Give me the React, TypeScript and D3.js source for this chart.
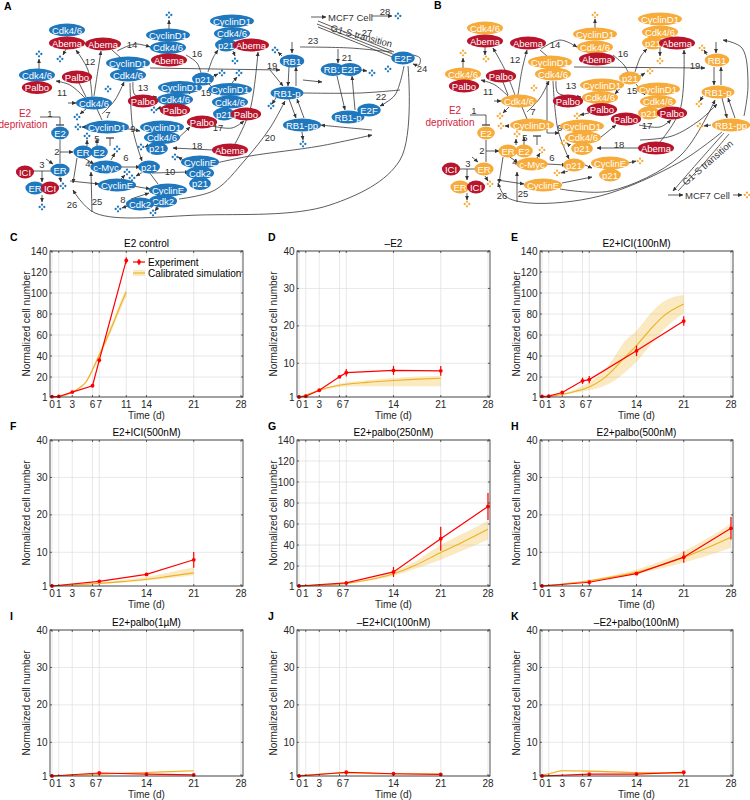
import React, { useEffect, useRef } from "react";
import * as d3 from "d3";

// ---------- chart data (panels C-K) ----------
const panelLetters = ["C", "D", "E", "F", "G", "H", "I", "J", "K"];
const panelTitles = [
  "E2 control", "\u2013E2", "E2+ICI(100nM)",
  "E2+ICI(500nM)", "E2+palbo(250nM)", "E2+palbo(500nM)",
  "E2+palbo(1\u00b5M)", "\u2013E2+ICI(100nM)", "\u2013E2+palbo(100nM)",
];
const yMaxes = [140, 40, 140, 40, 140, 40, 40, 40, 40];
const xTicksC = [0, 1, 3, 6, 7, 11, 14, 21, 28];
const xTicks = [0, 1, 3, 6, 7, 14, 21, 28];
const yTicks140 = [1, 20, 40, 60, 80, 100, 120, 140];
const yTicks40 = [1, 10, 20, 30, 40];

const cExpT = [0, 1, 3, 6, 7, 11];
const cExpY = [1.3, 1.5, 5.7, 11.7, 36, 131];
const cExpErr = [0.3, 0.3, 0.6, 1, 2, 3];
const cSimT = [0, 1, 2, 3, 4, 5, 6, 7, 8, 9, 10, 11];
const cSimY = [1, 1.4, 2.9, 5.6, 9.5, 15, 27, 41, 55, 70, 86, 101];
const cSimLo = [1, 1.3, 2.7, 5.2, 8.8, 13.8, 25, 38.5, 52, 66.5, 82, 97];
const cSimHi = [1, 1.5, 3.1, 6.0, 10.2, 16.2, 29, 43.5, 58, 73.5, 90, 105];

const dExpT = [0, 1, 3, 6, 7, 14, 21];
const dExpY = [1.0, 1.2, 2.8, 6.4, 7.5, 8.1, 8.0];
const dExpErr = [0.1, 0.1, 0.2, 0.3, 1.0, 1.2, 1.3];
const dSimT = [0, 1, 3, 5, 7, 10, 14, 17, 21];
const dSimY = [1, 1.5, 2.8, 3.8, 4.4, 4.9, 5.4, 5.7, 6.0];
const dSimLo = [1, 1.4, 2.6, 3.4, 3.8, 3.9, 3.9, 3.9, 3.9];
const dSimHi = [1, 1.6, 3.0, 4.1, 4.9, 5.5, 6.1, 6.4, 6.7];

const eExpT = [0, 1, 3, 6, 7, 14, 21];
const eExpY = [1.5, 1.8, 5.3, 16.4, 17.6, 45, 73.3];
const eExpErr = [0.5, 0.5, 1, 3, 3.5, 5, 4.5];
const eSimT = [0, 1, 3, 5, 7, 9, 11, 12, 14, 16, 18, 21];
const eSimY = [1, 1.5, 3.5, 6.5, 10.6, 18, 30, 37, 50, 65, 78, 89.5];
const eSimLo = [1, 1.4, 3.0, 5.2, 7.5, 11, 18, 23, 34.5, 50, 65, 81];
const eSimHi = [1, 1.6, 4.0, 8.5, 15, 25, 42, 52, 64, 80, 92, 98];

const fExpT = [0, 7, 14, 21];
const fExpY = [1.0, 2.25, 4.1, 8.0];
const fExpErr = [0.1, 0.3, 0.4, 2.1];
const fSimT = [0, 3, 7, 10, 14, 17, 21];
const fSimY = [1, 1.3, 1.7, 2.1, 2.8, 3.5, 4.5];
const fSimLo = [1, 1.25, 1.6, 1.9, 2.5, 3.0, 3.9];
const fSimHi = [1, 1.4, 1.9, 2.5, 3.5, 4.5, 6.0];

const gExpT = [0, 7, 14, 21, 28];
const gExpY = [1, 3.9, 14.4, 46, 76.7];
const gExpErr = [0.2, 0.6, 4.8, 11.5, 12.8];
const gSimT = [0, 3, 7, 10, 14, 17, 21, 24, 28];
const gSimY = [1, 1.8, 3.5, 6.5, 12.7, 20, 33, 42, 55];
const gSimLo = [1, 1.7, 3.2, 5.8, 10.8, 17, 26, 34, 45];
const gSimHi = [1, 1.9, 3.8, 7.2, 14.8, 23.5, 40, 50, 63];

const hExpT = [0, 7, 14, 21, 28];
const hExpY = [1, 2.0, 4.3, 8.7, 16.4];
const hExpErr = [0.1, 0.2, 0.3, 1.5, 3.0];
const hSimT = [0, 3, 7, 10, 14, 17, 21, 24, 28];
const hSimY = [1, 1.5, 2.4, 3.3, 4.7, 6.2, 8.6, 10.8, 14];
const hSimLo = [1, 1.45, 2.2, 3.0, 4.2, 5.4, 7.3, 8.8, 11.2];
const hSimHi = [1, 1.6, 2.6, 3.7, 5.4, 7.2, 10.3, 13.2, 17.6];

const iExpT = [0, 7, 14, 21];
const iExpY = [1.0, 1.8, 1.5, 1.3];
const iExpErr = [0.05, 0.15, 0.1, 0.1];
const iSimT = [0, 7, 14, 21];
const iSimY = [1, 1.5, 1.95, 2.4];
const iSimLo = [1, 1.45, 1.85, 2.25];
const iSimHi = [1, 1.55, 2.05, 2.55];

const jExpT = [0, 7, 14, 21];
const jExpY = [1.0, 2.0, 1.6, 1.4];
const jExpErr = [0.05, 0.2, 0.1, 0.1];
const jSimT = [0, 7, 14, 21];
const jSimY = [1.1, 1.8, 1.6, 1.6];
const jSimLo = [1, 1.6, 1.4, 1.4];
const jSimHi = [1.2, 2.0, 1.8, 1.8];

const kExpT = [0, 7, 14, 21];
const kExpY = [1.0, 1.5, 1.5, 2.0];
const kExpErr = [0.05, 0.1, 0.1, 0.15];
const kSimT = [0, 1, 3, 7, 14, 21];
const kSimY = [1.3, 1.6, 2.4, 2.3, 1.9, 1.7];
const kSimLo = [1.2, 1.5, 2.2, 2.1, 1.7, 1.5];
const kSimHi = [1.4, 1.7, 2.6, 2.5, 2.1, 1.9];

// ---------- network diagrams (A: blue, B: orange) ----------
// [label, x, y, isDrug]
const netANodes = [
  ["Cdk4/6", 67, 30, 0], ["Abema", 67, 43, 1],
  ["Abema", 103, 44, 1],
  ["CyclinD1", 168, 35, 0], ["Cdk4/6", 168, 47.5, 0], ["Abema", 169, 60, 1],
  ["CyclinD1", 232, 21, 0], ["Cdk4/6", 232, 33.5, 0], ["p21", 226, 45, 0], ["Abema", 251, 45, 1],
  ["CyclinD1", 128, 63, 0], ["Cdk4/6", 128, 75, 0],
  ["Cdk4/6", 37, 75, 0], ["Palbo", 37, 87.5, 1],
  ["Palbo", 77, 77, 1],
  ["Cdk4/6", 94, 103, 0],
  ["E2", 60, 133, 0],
  ["CyclinD1", 107, 127, 0],
  ["ER", 83, 152, 0], ["E2", 99, 152, 0],
  ["ER", 60, 170, 0], ["ICI", 25, 172, 1], ["ER", 35, 188, 0], ["ICI", 50, 188, 1],
  ["c-Myc", 106, 167, 0],
  ["p21", 149, 167, 0],
  ["CyclinE", 117, 185, 0],
  ["CyclinE", 168, 190, 0], ["Cdk2", 163, 201, 0],
  ["Cdk2", 140, 204, 0],
  ["CyclinE", 200, 162, 0], ["Cdk2", 200, 173, 0], ["p21", 200, 183.5, 0],
  ["CyclinD1", 162, 127, 0], ["Cdk4/6", 162, 137.5, 0], ["p21", 157, 148.5, 0],
  ["Abema", 230, 150, 1],
  ["Palbo", 202, 122, 1],
  ["p21", 203, 79, 0],
  ["CyclinD1", 180, 87.5, 0], ["Cdk4/6", 175, 99.5, 0], ["Palbo", 175, 110, 1], ["Palbo", 143, 101, 1],
  ["CyclinD1", 230, 89.5, 0], ["Cdk4/6", 230, 102, 0], ["p21", 224, 114, 0], ["Palbo", 246, 114, 1],
  ["RB1", 292, 61, 0],
  ["RB1", 333, 69.5, 0], ["E2F", 350, 69.5, 0],
  ["RB1-p", 287, 93, 0],
  ["RB1-pp", 302, 125, 0],
  ["RB1-p", 348, 117, 0], ["E2F", 369, 110, 0],
  ["E2F", 403, 58, 0],
];
// [head(0 none, 1 arrow, 2 bar), x1, y1, x2, y2, ...]
const netAEdges = [
  [1, 117, 51, 135, 44, 150, 47], [0, 121, 58, 112, 50],
  [0, 186, 55, 197, 63, 201, 73], [1, 208, 72, 213, 58, 218, 50],
  [1, 94, 96, 98, 70, 101, 51], [1, 92, 97, 88, 70, 76, 50],
  [1, 66, 49, 63, 55], [1, 39, 69, 39, 59],
  [1, 87, 100, 70, 85, 56, 81], [0, 79, 83, 86, 97],
  [1, 68, 103, 76, 103], [1, 86, 109, 80, 114],
  [0, 97, 109, 102, 120], [1, 102, 114, 115, 100, 124, 82],
  [1, 86, 127, 82, 127],
  [0, 40, 117, 60, 117], [2, 60, 117, 60, 125],
  [0, 60, 140, 60, 152], [1, 60, 152, 73, 152], [0, 60, 163, 60, 152],
  [1, 60, 177, 61, 182],
  [0, 34, 171, 51, 171], [1, 42, 171, 42, 182],
  [1, 42, 195, 42, 202], [1, 46, 159, 53, 164],
  [1, 87, 146, 87, 140], [1, 97, 146, 97, 139], [2, 110, 146, 110, 138],
  [1, 84, 158, 94, 164], [1, 77, 158, 73, 183], [1, 70, 181, 99, 184],
  [1, 121, 167, 140, 167], [1, 111, 160, 115, 153],
  [1, 143, 172, 136, 176], [1, 121, 179, 125, 175],
  [1, 133, 186, 150, 189], [1, 152, 173, 189, 172], [0, 149, 172, 158, 184],
  [1, 131, 199, 149, 193], [1, 131, 205, 122, 208], [1, 158, 207, 155, 211],
  [1, 183, 160, 178, 157],
  [1, 179, 199, 215, 190, 245, 160, 270, 128, 285, 101],
  [1, 216, 163, 250, 156, 320, 146, 372, 135],
  [1, 130, 83, 133, 130, 142, 161],
  [1, 133, 82, 135, 95, 157, 97],
  [1, 197, 84, 189, 94], [1, 209, 84, 219, 95],
  [1, 212, 77, 218, 74], [1, 232, 83, 237, 77], [1, 233, 51, 235, 56], [1, 169, 29, 169, 20],
  [1, 160, 108, 157, 109],
  [1, 212, 126, 232, 128, 244, 121],
  [1, 174, 142, 190, 127], [1, 147, 146, 145, 147],
  [1, 123, 128, 140, 131],
  [1, 213, 150, 173, 148],
  [1, 235, 144, 250, 110, 258, 52],
  [1, 150, 68, 280, 70], [1, 270, 70, 283, 86],
  [1, 282, 56, 278, 52], [1, 292, 42, 292, 53],
  [1, 289, 67, 288, 86], [1, 296, 86, 296, 67],
  [1, 289, 99, 296, 118], [1, 304, 118, 297, 99],
  [1, 276, 98, 272, 104], [1, 302, 132, 303, 140],
  [1, 303, 80, 322, 82],
  [0, 392, 52, 350, 48, 300, 47],
  [1, 338, 49, 338, 63],
  [1, 337, 76, 345, 110], [1, 355, 110, 352, 76],
  [1, 361, 70, 367, 71],
  [0, 303, 93, 360, 93, 400, 90],
  [1, 404, 66, 395, 95, 380, 106],
  [1, 372, 130, 330, 126, 321, 125],
  [0, 394, 52, 318, 21], [0, 395, 55, 317, 24], [0, 395, 58, 318, 27],
  [1, 311, 17, 326, 17], [1, 372, 16, 392, 16],
  [1, 413, 55, 420, 58, 419, 65, 413, 64],
  [1, 408, 66, 400, 160, 330, 205, 200, 215, 95, 213, 73, 190],
  [1, 92, 212, 91, 172],
];
const netADots = [
  [60, 59], [169, 15], [235, 61], [108, 89], [39, 54], [77, 117], [78, 127], [87, 136],
  [42, 207], [63, 186], [117, 149], [132, 178], [127, 172], [153, 213], [118, 209],
  [175, 157], [141, 147], [222, 73], [154, 110], [239, 73], [275, 50], [372, 73],
  [271, 106], [303, 144], [388, 69], [398, 16],
];
const netANums = [
  ["14", 132, 44], ["16", 197, 53], ["12", 90, 61], ["11", 62, 92], ["13", 143, 87],
  ["15", 206, 92], ["7", 108, 114], ["1", 50, 113], ["9", 133, 128], ["17", 218, 127],
  ["18", 197, 145], ["5", 97, 138], ["2", 57, 151], ["4", 88, 163.5], ["6", 126, 157],
  ["3", 42, 164], ["10", 170, 171], ["8", 123, 199], ["26", 72, 204], ["25", 97, 201],
  ["20", 270, 137], ["19", 272, 65], ["23", 313, 40], ["21", 347, 57], ["27", 367, 32],
  ["28", 385, 11], ["24", 422, 68], ["22", 381, 96],
];

const netBNodes = [
  ["Cdk4/6", 485, 28, 0], ["Abema", 485, 41, 1],
  ["Abema", 528, 43, 1],
  ["CyclinD1", 595, 34, 0], ["Cdk4/6", 595, 47, 0], ["Abema", 597, 59, 1],
  ["CyclinD1", 660, 19, 0], ["Cdk4/6", 660, 32, 0], ["p21", 653, 43, 0], ["Abema", 677, 43, 1],
  ["CyclinD1", 550, 62, 0], ["Cdk4/6", 553, 74, 0],
  ["Cdk4/6", 463, 74, 0], ["Palbo", 464, 86, 1],
  ["Palbo", 501, 76, 1],
  ["Cdk4/6", 519, 101, 0],
  ["E2", 486, 133, 0],
  ["CyclinD1", 532, 125, 0],
  ["ER", 508, 151, 0], ["E2", 524, 151, 0],
  ["ER", 484, 169, 0], ["ICI", 451, 169, 1], ["ER", 460, 187, 0], ["ICI", 476, 187, 1],
  ["c-Myc", 532, 164, 0],
  ["p21", 574, 165, 0],
  ["CyclinE", 543, 185, 0],
  ["CyclinE", 610, 163, 0], ["p21", 610, 175, 0],
  ["CyclinD1", 582, 126, 0], ["Cdk4/6", 583, 137.5, 0], ["p21", 582, 148.5, 0],
  ["Abema", 656, 148, 1],
  ["Palbo", 626, 119, 1],
  ["p21", 630, 78, 0],
  ["CyclinD1", 602, 85, 0], ["Cdk4/6", 600, 97.5, 0], ["Palbo", 568, 101, 1], ["Palbo", 602, 109.5, 1],
  ["CyclinD1", 658, 89, 0], ["Cdk4/6", 658, 101.5, 0], ["p21", 649, 113, 0], ["Palbo", 672, 113, 1],
  ["RB1", 717, 60, 0],
  ["RB1-p", 718, 92, 0],
  ["RB1-pp", 731, 125, 0],
];
const netBEdges = [
  [1, 541, 49, 560, 40, 577, 47], [0, 548, 57, 540, 50],
  [0, 613, 55, 624, 65, 628, 72], [1, 635, 72, 641, 56, 647, 49],
  [1, 518, 95, 522, 70, 527, 50], [1, 515, 95, 505, 70, 493, 48],
  [1, 485, 47, 485, 55], [1, 463, 68, 463, 58],
  [1, 510, 98, 495, 85, 481, 80], [0, 503, 82, 508, 95],
  [1, 494, 101, 501, 101], [1, 509, 107, 503, 113],
  [0, 522, 107, 527, 119], [1, 527, 112, 540, 98, 549, 81],
  [1, 509, 126, 505, 126],
  [0, 470, 115, 486, 115], [2, 486, 115, 486, 125],
  [0, 486, 140, 486, 151], [1, 486, 151, 499, 151], [0, 486, 162, 486, 151],
  [1, 485, 176, 488, 181],
  [0, 459, 169, 476, 169], [1, 467, 169, 467, 180],
  [1, 467, 193, 467, 200], [1, 472, 157, 478, 162],
  [1, 516, 145, 516, 139], [1, 524, 145, 524, 137], [2, 537, 145, 537, 136],
  [1, 510, 157, 518, 163], [1, 503, 157, 499, 183], [1, 497, 180, 524, 184],
  [1, 547, 164, 566, 165], [1, 537, 158, 540, 153],
  [1, 585, 165, 592, 168], [1, 562, 183, 592, 177],
  [1, 628, 163, 636, 161], [1, 568, 171, 561, 173],
  [1, 560, 189, 610, 191, 680, 156, 715, 100],
  [1, 640, 140, 672, 136, 700, 120, 717, 104],
  [1, 553, 81, 558, 130, 569, 159],
  [1, 556, 81, 558, 93, 581, 97],
  [1, 624, 84, 615, 94], [1, 636, 84, 645, 95],
  [1, 639, 77, 645, 73], [1, 660, 39, 660, 56], [1, 595, 28, 595, 19],
  [1, 589, 113, 580, 115],
  [1, 639, 125, 660, 127, 671, 120],
  [1, 596, 141, 616, 125], [1, 570, 146, 567, 143],
  [0, 547, 81, 547, 133], [1, 547, 133, 559, 133],
  [1, 640, 148, 597, 148],
  [1, 660, 142, 680, 110, 684, 50],
  [1, 574, 67, 705, 68],
  [1, 707, 55, 704, 50], [1, 716, 42, 716, 53],
  [1, 714, 67, 714, 85], [1, 721, 85, 721, 67],
  [1, 722, 98, 727, 118], [1, 735, 118, 728, 98],
  [1, 703, 96, 700, 101], [1, 711, 125, 704, 126],
  [1, 744, 116, 748, 85, 742, 48, 723, 40],
  [1, 724, 133, 700, 160, 673, 191], [0, 729, 134, 705, 162, 678, 191],
  [1, 668, 195, 683, 195], [1, 733, 195, 742, 195],
  [1, 722, 132, 680, 162, 600, 196, 530, 203, 505, 196, 498, 183],
  [1, 517, 202, 517, 172],
];
const netBDots = [
  [486, 59], [595, 15], [660, 61], [534, 88], [463, 53], [500, 116], [501, 126], [517, 134],
  [467, 204], [490, 184], [542, 150], [557, 173], [640, 161], [564, 143], [650, 71],
  [577, 116], [702, 48], [699, 104], [700, 126], [747, 195],
];
const netBNums = [
  ["14", 555, 44], ["16", 623, 53], ["12", 515, 59], ["11", 488, 91], ["13", 571, 85],
  ["15", 632, 90], ["7", 533, 111], ["1", 474, 110], ["9", 560, 127], ["17", 647, 125],
  ["18", 619, 144], ["5", 525, 137], ["2", 482, 150], ["3", 468, 163], ["4", 515, 161],
  ["6", 552, 157], ["19", 695, 65], ["26", 502, 195], ["25", 523, 193],
];

const FONT = "'Liberation Sans', Arial, Helvetica, sans-serif";
const RED = "#ff0000";
const SIM = "#edb120";
const BLUE = "#1f77be";
const ORANGE = "#f7ab3a";
const DRUG = "#b8142c";
const AXIS = "#262626";

const makeSeries = (t, y) => t.map((v, i) => [v, y[i]]);

const App = () => {
  const ref = useRef(null);

  useEffect(() => {
    const svg = d3.select(ref.current);
    svg.selectAll("*").remove();

    const defs = svg.append("defs");
    defs.append("marker").attr("id", "arr").attr("viewBox", "0 0 6 6")
      .attr("refX", 5.5).attr("refY", 3).attr("markerWidth", 4.5).attr("markerHeight", 4.5)
      .attr("markerUnits", "userSpaceOnUse").attr("orient", "auto")
      .append("path").attr("d", "M0,0.4 L6,3 L0,5.6 Z").attr("fill", "#333");
    defs.append("marker").attr("id", "bar").attr("viewBox", "0 0 2 8")
      .attr("refX", 1).attr("refY", 4).attr("markerWidth", 2).attr("markerHeight", 8)
      .attr("markerUnits", "userSpaceOnUse").attr("orient", "auto")
      .append("path").attr("d", "M1,0 V8").attr("stroke", "#333").attr("stroke-width", 1.2);

    // ---- networks ----
    const ctx = document.createElement("canvas").getContext("2d");
    const measure = (s) => {
      if (!ctx) return s.length * 5.2;
      ctx.font = `9.5px ${FONT}`;
      return ctx.measureText(s).width;
    };
    const edgeLine = d3.line().curve(d3.curveCatmullRom.alpha(0.5));

    const drawNet = (nodes, edges, dots, nums, base) => {
      const g = svg.append("g");
      edges.forEach((e) => {
        const [h, ...c] = e;
        const pts = [];
        for (let i = 0; i < c.length; i += 2) pts.push([c[i], c[i + 1]]);
        g.append("path").attr("d", edgeLine(pts)).attr("fill", "none")
          .attr("stroke", "#333").attr("stroke-width", 0.8)
          .attr("marker-end", h === 1 ? "url(#arr)" : h === 2 ? "url(#bar)" : null);
      });
      dots.forEach(([x, y]) => {
        [[0, -2.3], [-2.3, 0], [2.3, 0], [0, 2.3]].forEach(([dx, dy]) => {
          g.append("circle").attr("cx", x + dx).attr("cy", y + dy).attr("r", 1.15).attr("fill", base);
        });
      });
      nums.forEach(([s, x, y]) => {
        g.append("text").attr("x", x).attr("y", y).attr("text-anchor", "middle")
          .attr("dominant-baseline", "central").attr("font-family", FONT)
          .attr("font-size", 9.5).attr("fill", "#333").text(s);
      });
      nodes.forEach(([s, x, y, drug]) => {
        const rx = measure(s) / 2 + 3;
        g.append("ellipse").attr("cx", x).attr("cy", y).attr("rx", rx).attr("ry", 6.4)
          .attr("fill", drug ? DRUG : base);
        g.append("text").attr("x", x).attr("y", y).attr("text-anchor", "middle")
          .attr("dominant-baseline", "central").attr("font-family", FONT)
          .attr("font-size", 9.5).attr("fill", "#fff").text(s);
      });
      return g;
    };

    const gA = drawNet(netANodes, netAEdges, netADots, netANums, BLUE);
    const gB = drawNet(netBNodes, netBEdges, netBDots, netBNums, ORANGE);

    const txt = (g, s, x, y, opts = {}) =>
      g.append("text").attr("x", x).attr("y", y).attr("font-family", FONT)
        .attr("font-size", opts.size || 9.5).attr("fill", opts.fill || "#333")
        .attr("text-anchor", opts.anchor || "middle")
        .attr("font-weight", opts.bold ? "bold" : null)
        .attr("transform", opts.rot ? `rotate(${opts.rot},${x},${y})` : null)
        .text(s);

    txt(gA, "E2", 25, 117, { fill: "#d0233c", size: 10 });
    txt(gA, "deprivation", 23, 128, { fill: "#d0233c", size: 10 });
    txt(gA, "MCF7 Cell", 328, 20.5, { anchor: "start" });
    txt(gA, "G1-S transition", 330, 31, { anchor: "start", rot: 15 });
    txt(gB, "E2", 455, 114, { fill: "#d0233c", size: 10 });
    txt(gB, "deprivation", 450, 126, { fill: "#d0233c", size: 10 });
    txt(gB, "MCF7 Cell", 685, 198.5, { anchor: "start" });
    txt(gB, "G1-S transition", 686, 186, { anchor: "start", rot: -41 });
    txt(svg, "A", 4, 10, { anchor: "start", bold: true, size: 10.5, fill: "#000" });
    txt(svg, "B", 434, 9, { anchor: "start", bold: true, size: 10.5, fill: "#000" });

    // ---- chart panels ----
    const panels = [
      [cExpT, cExpY, cExpErr, cSimT, cSimY, cSimLo, cSimHi],
      [dExpT, dExpY, dExpErr, dSimT, dSimY, dSimLo, dSimHi],
      [eExpT, eExpY, eExpErr, eSimT, eSimY, eSimLo, eSimHi],
      [fExpT, fExpY, fExpErr, fSimT, fSimY, fSimLo, fSimHi],
      [gExpT, gExpY, gExpErr, gSimT, gSimY, gSimLo, gSimHi],
      [hExpT, hExpY, hExpErr, hSimT, hSimY, hSimLo, hSimHi],
      [iExpT, iExpY, iExpErr, iSimT, iSimY, iSimLo, iSimHi],
      [jExpT, jExpY, jExpErr, jSimT, jSimY, jSimLo, jSimHi],
      [kExpT, kExpY, kExpErr, kSimT, kSimY, kSimLo, kSimHi],
    ];
    const colX = [50, 297, 540];
    const rowY = [251, 440, 630];
    const W = 193;
    const H = 146;

    panels.forEach((p, idx) => {
      const [eT, eY, eErr, sT, sY, sLo, sHi] = p;
      const x0 = colX[idx % 3];
      const y0 = rowY[Math.floor(idx / 3)];
      const yMax = yMaxes[idx];
      const xt = idx === 0 ? xTicksC : xTicks;
      const yt = yMax === 140 ? yTicks140 : yTicks40;
      const x = d3.scaleLinear().domain([-0.3, 28.3]).range([x0, x0 + W]);
      const y = d3.scaleLinear().domain([1, yMax]).range([y0 + H, y0]);
      const g = svg.append("g");

      g.append("rect").attr("x", x0).attr("y", y0).attr("width", W).attr("height", H).attr("fill", "#fff");
      g.selectAll(".gx").data(xt).enter().append("line")
        .attr("x1", (d) => x(d)).attr("x2", (d) => x(d)).attr("y1", y0).attr("y2", y0 + H)
        .attr("stroke", "#dedede").attr("stroke-width", 0.7);
      g.selectAll(".gy").data(yt).enter().append("line")
        .attr("y1", (d) => y(d)).attr("y2", (d) => y(d)).attr("x1", x0).attr("x2", x0 + W)
        .attr("stroke", "#dedede").attr("stroke-width", 0.7);

      const area = d3.area().curve(d3.curveMonotoneX)
        .x((d) => x(d[0])).y0((d) => y(d[1])).y1((d) => y(d[2]));
      g.append("path").attr("d", area(sT.map((t, i) => [t, sLo[i], sHi[i]])))
        .attr("fill", SIM).attr("fill-opacity", 0.28);
      const simLine = d3.line().curve(d3.curveMonotoneX).x((d) => x(d[0])).y((d) => y(d[1]));
      g.append("path").attr("d", simLine(makeSeries(sT, sY)))
        .attr("fill", "none").attr("stroke", SIM).attr("stroke-width", 1.1);

      const expLine = d3.line().x((d) => x(d[0])).y((d) => y(d[1]));
      g.append("path").attr("d", expLine(makeSeries(eT, eY)))
        .attr("fill", "none").attr("stroke", RED).attr("stroke-width", 1.2);
      g.selectAll(".err").data(eT).enter().append("line")
        .attr("x1", (d) => x(d)).attr("x2", (d) => x(d))
        .attr("y1", (d, i) => y(eY[i] - eErr[i])).attr("y2", (d, i) => y(eY[i] + eErr[i]))
        .attr("stroke", RED).attr("stroke-width", 1.2);
      g.selectAll(".pt").data(eT).enter().append("circle")
        .attr("cx", (d) => x(d)).attr("cy", (d, i) => y(eY[i])).attr("r", 1.9).attr("fill", RED);

      g.append("rect").attr("x", x0).attr("y", y0).attr("width", W).attr("height", H)
        .attr("fill", "none").attr("stroke", AXIS).attr("stroke-width", 0.8);
      xt.forEach((d) => {
        g.append("line").attr("x1", x(d)).attr("x2", x(d)).attr("y1", y0 + H).attr("y2", y0 + H - 2)
          .attr("stroke", AXIS).attr("stroke-width", 0.7);
        g.append("line").attr("x1", x(d)).attr("x2", x(d)).attr("y1", y0).attr("y2", y0 + 2)
          .attr("stroke", AXIS).attr("stroke-width", 0.7);
      });
      yt.forEach((d) => {
        g.append("line").attr("x1", x0).attr("x2", x0 + 2).attr("y1", y(d)).attr("y2", y(d))
          .attr("stroke", AXIS).attr("stroke-width", 0.7);
        g.append("line").attr("x1", x0 + W).attr("x2", x0 + W - 2).attr("y1", y(d)).attr("y2", y(d))
          .attr("stroke", AXIS).attr("stroke-width", 0.7);
      });

      xt.forEach((d) => txt(g, String(d), x(d), y0 + H + 11, { size: 10, fill: AXIS }));
      yt.forEach((d) => txt(g, String(d), x0 - 2.5, y(d) + 3.5, { size: 10, fill: AXIS, anchor: "end" }));
      txt(g, "Time (d)", x0 + W / 2, y0 + H + 21.5, { size: 10, fill: AXIS });
      txt(g, "Normalized cell number", x0 - 20, y0 + H / 2, { size: 10, fill: AXIS, rot: -90 });
      txt(g, panelTitles[idx], x0 + W / 2, y0 - 4.5, { size: 10, fill: "#000" });
      txt(g, panelLetters[idx], x0 - 42 + (idx % 3 === 0 ? 2 : 13), y0 - 10,
        { anchor: "start", bold: true, size: 10.5, fill: "#000" });

      if (idx === 0) {
        const lx = x0 + 83;
        const ly = y0 + 7;
        g.append("rect").attr("x", lx - 2).attr("y", ly - 2).attr("width", x0 + W - lx).attr("height", 22)
          .attr("fill", "#fff");
        g.append("line").attr("x1", lx).attr("x2", lx + 12).attr("y1", ly + 4).attr("y2", ly + 4)
          .attr("stroke", RED).attr("stroke-width", 1.2);
        g.append("line").attr("x1", lx + 6).attr("x2", lx + 6).attr("y1", ly + 1).attr("y2", ly + 7)
          .attr("stroke", RED).attr("stroke-width", 1.2);
        g.append("circle").attr("cx", lx + 6).attr("cy", ly + 4).attr("r", 1.9).attr("fill", RED);
        txt(g, "Experiment", lx + 15, ly + 7.5, { anchor: "start", size: 10, fill: "#000" });
        g.append("rect").attr("x", lx).attr("y", ly + 12).attr("width", 12).attr("height", 6)
          .attr("fill", SIM).attr("fill-opacity", 0.28);
        g.append("line").attr("x1", lx).attr("x2", lx + 12).attr("y1", ly + 15).attr("y2", ly + 15)
          .attr("stroke", SIM).attr("stroke-width", 1.1);
        txt(g, "Calibrated simulation", lx + 15, ly + 18.5, { anchor: "start", size: 10, fill: "#000" });
      }
    });
  }, []);

  return (
    <svg
      ref={ref}
      width={750}
      height={800}
      style={{ position: "absolute", left: 0, top: 0, background: "#fff" }}
    />
  );
};

export default App;
